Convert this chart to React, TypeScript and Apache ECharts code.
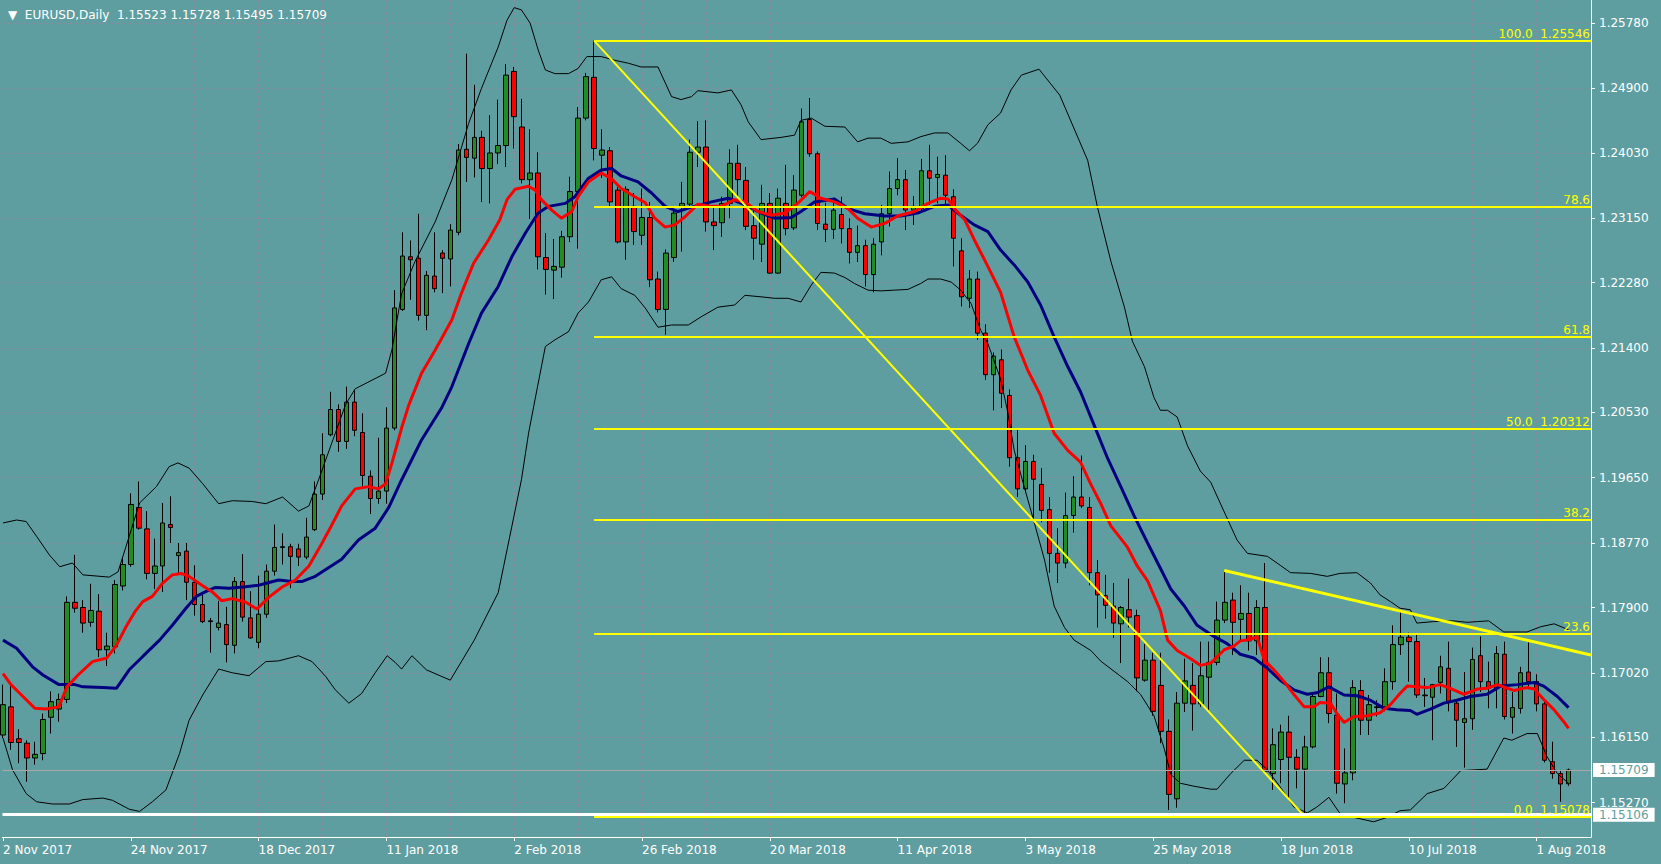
import React, { useEffect, useRef } from 'react';
import * as echarts from 'echarts';

const symbolName = 'EURUSD';
const periodName = 'Daily';

// x axis: bar index -> date label (every 16 trading days)
const dateLabelIndex = [0, 16, 32, 48, 64, 80, 96, 112, 128, 144, 160, 176, 192];
const dateLabels = ['2 Nov 2017', '24 Nov 2017', '18 Dec 2017', '11 Jan 2018', '2 Feb 2018', '26 Feb 2018', '20 Mar 2018', '11 Apr 2018', '3 May 2018', '25 May 2018', '18 Jun 2018', '10 Jul 2018', '1 Aug 2018'];
const gridLineIndex = [0, 8, 16, 24, 32, 40, 48, 56, 64, 72, 80, 88, 96, 104, 112, 120, 128, 136, 144, 152, 160, 168, 176, 184, 192];

// y axis price labels
const priceTicks = [1.2578, 1.249, 1.2403, 1.2315, 1.2228, 1.214, 1.2053, 1.1965, 1.1877, 1.179, 1.1702, 1.1615, 1.1527];

const opens = [
1.1618,1.1656,1.1613,1.1607,1.1587,1.1593,1.1642,1.1653,1.1666,1.1797,
1.1790,1.1770,1.1785,1.1733,1.1737,1.1819,1.1848,1.1925,1.1896,1.1836,
1.1846,1.1902,1.1860,1.1866,1.1824,1.1794,1.1772,1.1763,1.1767,1.1739,
1.1825,1.1776,1.1743,1.1781,1.1839,1.1871,1.1872,1.1869,1.1858,1.1895,
1.1943,1.2023,1.2057,1.2014,1.2067,1.2026,1.1967,1.1937,1.1947,1.2032,
1.2192,1.2263,1.2261,1.2184,1.2237,1.2268,1.2260,1.2296,1.2408,1.2396,
1.2424,1.2382,1.2403,1.2413,1.2513,1.2438,1.2367,1.2376,1.2262,1.2245,
1.2249,1.2290,1.2351,1.2450,1.2505,1.2400,1.2406,1.2353,1.2283,1.2331,
1.2292,1.2316,1.2233,1.2192,1.2262,1.2331,1.2334,1.2404,1.2411,1.2310,
1.2309,1.2335,1.2389,1.2366,1.2305,1.2280,1.2335,1.2241,1.2335,1.2302,
1.2346,1.2448,1.2402,1.2307,1.2300,1.2320,1.2301,1.2269,1.2278,1.2239,
1.2283,1.2321,1.2355,1.2367,1.2326,1.2328,1.2379,1.2370,1.2373,1.2344,
1.2271,1.2207,1.2233,1.2160,1.2104,1.2124,1.2076,1.1992,1.1950,1.1987,
1.1956,1.1922,1.1863,1.1850,1.1914,1.1939,1.1925,1.1837,1.1806,1.1792,
1.1768,1.1787,1.1779,1.1692,1.1719,1.1685,1.1623,1.1532,1.1661,1.1685,
1.1660,1.1696,1.1716,1.1773,1.1800,1.1774,1.1782,1.1745,1.1790,1.1566,
1.1585,1.1622,1.1588,1.1572,1.1602,1.1670,1.1702,1.1645,1.1552,1.1567,
1.1678,1.1638,1.1655,1.1656,1.1690,1.1740,1.1750,1.1744,1.1672,1.1669,
1.1689,1.1708,1.1661,1.1635,1.1640,1.1725,1.1690,1.1681,1.1727,1.1642,
1.1654,1.1703,1.1690,1.1660,1.1582,1.1566,1.15523];

const highs = [
1.1686,1.1684,1.1626,1.1611,1.1609,1.1647,1.1677,1.1674,1.1805,1.1861,
1.1800,1.1822,1.1808,1.1756,1.1827,1.1856,1.1944,1.1960,1.1920,1.1883,
1.1931,1.1940,1.1877,1.1877,1.1847,1.1807,1.1776,1.1799,1.1791,1.1831,
1.1862,1.1812,1.1833,1.1848,1.1902,1.1890,1.1876,1.1876,1.1911,1.1960,
1.2025,1.2081,1.2064,1.2088,1.2083,1.2052,1.1975,1.2019,1.2060,1.2218,
1.2296,1.2285,1.2321,1.2244,1.2296,1.2272,1.2307,1.2415,1.2537,1.2495,
1.2433,1.2454,1.2475,1.2523,1.2519,1.2476,1.2435,1.2404,1.2295,1.2287,
1.2298,1.2371,1.2465,1.2511,1.25546,1.2435,1.2411,1.2357,1.2358,1.2349,
1.2355,1.2337,1.2243,1.2273,1.2327,1.2364,1.2421,1.2446,1.2447,1.2333,
1.2344,1.2408,1.2414,1.2384,1.2328,1.2360,1.2349,1.2355,1.2387,1.2373,
1.2463,1.2477,1.2405,1.2336,1.2337,1.2344,1.2315,1.2305,1.2286,1.2288,
1.2333,1.2378,1.2396,1.2380,1.2345,1.2395,1.2414,1.2398,1.2400,1.2354,
1.2288,1.2245,1.2243,1.2172,1.2134,1.2138,1.2084,1.2030,1.2009,1.1996,
1.1978,1.1939,1.1897,1.1945,1.1967,1.1995,1.1939,1.1854,1.1834,1.1823,
1.1792,1.1829,1.1787,1.1741,1.1729,1.1729,1.1639,1.1676,1.1721,1.1715,
1.1744,1.1744,1.1798,1.1838,1.1810,1.1820,1.1810,1.1800,1.1850,1.1627,
1.1632,1.1644,1.1599,1.1617,1.1673,1.1723,1.1723,1.1674,1.1600,1.1692,
1.1692,1.1672,1.1665,1.1708,1.1766,1.1786,1.1756,1.1753,1.1695,1.1687,
1.1725,1.1744,1.1665,1.1703,1.1736,1.1751,1.1717,1.1738,1.1744,1.1676,
1.1710,1.1743,1.1700,1.1663,1.1609,1.1571,1.15728];

const lows = [
1.1614,1.1598,1.1580,1.1555,1.1578,1.1584,1.1620,1.1636,1.1661,1.1783,
1.1756,1.1764,1.1723,1.1711,1.1728,1.1813,1.1845,1.1895,1.1828,1.1815,
1.1811,1.1877,1.1835,1.1800,1.1779,1.1769,1.1729,1.1759,1.1716,1.1728,
1.1771,1.1748,1.1735,1.1776,1.1833,1.1848,1.1816,1.1846,1.1855,1.1893,
1.1935,1.2021,1.2000,1.2004,1.2021,1.1953,1.1916,1.1930,1.1930,1.2029,
1.2190,1.2205,1.2177,1.2164,1.2215,1.2214,1.2223,1.2292,1.2364,1.2370,
1.2337,1.2335,1.2388,1.2384,1.2409,1.2362,1.2314,1.2246,1.2212,1.2206,
1.2235,1.2283,1.2274,1.2447,1.2393,1.2369,1.2331,1.2281,1.2259,1.2279,
1.2279,1.2222,1.2188,1.2158,1.2256,1.2270,1.2328,1.2384,1.2297,1.2272,
1.2290,1.2315,1.2342,1.2299,1.2259,1.2256,1.2240,1.2240,1.2292,1.2299,
1.2343,1.2398,1.2299,1.2283,1.2287,1.2281,1.2254,1.2256,1.2223,1.2215,
1.2265,1.2304,1.2346,1.2299,1.2306,1.2324,1.2333,1.2335,1.2333,1.2250,
1.2196,1.2194,1.2151,1.2097,1.2056,1.2059,1.1980,1.1939,1.1945,1.1905,
1.1905,1.1837,1.1823,1.1843,1.1891,1.1924,1.1820,1.1763,1.1775,1.1749,
1.1715,1.1763,1.1677,1.1690,1.1644,1.1607,1.1517,1.1520,1.1649,1.1624,
1.1656,1.1652,1.1712,1.1769,1.1726,1.1746,1.1732,1.1726,1.1566,1.1544,
1.1553,1.1533,1.1546,1.15078,1.1600,1.1669,1.1634,1.1539,1.1526,1.1557,
1.1618,1.1618,1.1643,1.1650,1.1679,1.1726,1.1690,1.1668,1.1656,1.1611,
1.1674,1.1650,1.1602,1.1574,1.1625,1.1676,1.1654,1.1654,1.1639,1.1620,
1.1647,1.1680,1.1650,1.1581,1.1559,1.1528,1.15495];

const closes = [
1.1659,1.1608,1.1608,1.1587,1.1592,1.1639,1.1663,1.1666,1.1797,1.1789,
1.1769,1.1786,1.1733,1.1738,1.1821,1.1848,1.1929,1.1897,1.1836,1.1846,
1.1904,1.1898,1.1864,1.1824,1.1794,1.1771,1.1771,1.1769,1.1740,1.1825,
1.1777,1.1749,1.1781,1.1839,1.1871,1.1872,1.1859,1.1858,1.1885,1.1943,
1.1996,1.2057,1.2014,1.2067,1.2029,1.1968,1.1937,1.1947,1.2032,1.2194,
1.2264,1.2259,1.2184,1.2238,1.2220,1.2261,1.2299,1.2407,1.2397,1.2424,
1.2382,1.2403,1.2413,1.2508,1.2452,1.2367,1.2376,1.2263,1.2246,1.2250,
1.2290,1.2351,1.2450,1.2506,1.2409,1.2407,1.2337,1.2283,1.2354,1.2297,
1.2316,1.2232,1.2192,1.2268,1.2322,1.2335,1.2404,1.2411,1.2310,1.2305,
1.2335,1.2389,1.2367,1.2304,1.2288,1.2335,1.2241,1.2342,1.2301,1.2353,
1.2445,1.2402,1.2308,1.2300,1.2326,1.2301,1.2269,1.2278,1.2239,1.2280,
1.2321,1.2355,1.2367,1.2326,1.2331,1.2379,1.2369,1.2374,1.2346,1.2288,
1.2209,1.2233,1.2160,1.2104,1.2129,1.2079,1.1992,1.1950,1.1987,1.1963,
1.1921,1.1863,1.1850,1.1914,1.1939,1.1927,1.1837,1.1807,1.1793,1.1769,
1.1790,1.1777,1.1695,1.1719,1.1650,1.1623,1.1538,1.1661,1.1691,1.1660,
1.1698,1.1716,1.1773,1.1797,1.1770,1.1782,1.1745,1.1790,1.1569,1.1605,
1.1622,1.1588,1.1572,1.1602,1.1670,1.1702,1.1647,1.1553,1.1567,1.1682,
1.1638,1.1659,1.1656,1.1690,1.1740,1.1750,1.1744,1.1672,1.1671,1.1686,
1.1710,1.1663,1.1638,1.1640,1.1720,1.1690,1.1681,1.1728,1.1643,1.1655,
1.1702,1.1690,1.1660,1.1584,1.1566,1.1552,1.15709];

// indicator lines as [bar index, price]
const redLine = [[0,1.1701],[1,1.1686],[2.5,1.1670],[4,1.1654],[5.4,1.1653],[7,1.1656],[8,1.1683],[9.4,1.1699],[11.2,1.1717],[13,1.1722],[14.2,1.1739],[15.4,1.1764],[16.5,1.1784],[17.5,1.1798],[18.7,1.1805],[20,1.1823],[21.2,1.1834],[22.3,1.1836],[23.3,1.1832],[24.9,1.1820],[26.2,1.1811],[27.4,1.1799],[28.7,1.1802],[30.4,1.1797],[31.8,1.1788],[33.3,1.1804],[35,1.1818],[36.6,1.1827],[38.3,1.1846],[39.9,1.1876],[41.2,1.1902],[42.4,1.1927],[44.1,1.1950],[45.8,1.1953],[47,1.1950],[47.9,1.1957],[48.7,1.1985],[49.9,1.2032],[50.8,1.2063],[52.4,1.2106],[54.1,1.2137],[56.2,1.2178],[57.4,1.2214],[58.9,1.2254],[60.8,1.2286],[62.2,1.2313],[63.1,1.2340],[64.1,1.2354],[65.8,1.2358],[66.6,1.2353],[67.4,1.2340],[68.7,1.2326],[69.9,1.2315],[71.2,1.2324],[72,1.2344],[73.3,1.2364],[74.9,1.2376],[76.2,1.2368],[77.4,1.2355],[79.1,1.2344],[80.4,1.2336],[81.6,1.2315],[82.9,1.2303],[84.1,1.2306],[85.4,1.2317],[87,1.2334],[88.7,1.2331],[89.9,1.2331],[91.6,1.2340],[92.9,1.2337],[94.5,1.2324],[96.2,1.2319],[97.9,1.2322],[99.5,1.2335],[101,1.2351],[102.4,1.2342],[104.1,1.2337],[105.8,1.2328],[107,1.2315],[108.7,1.2303],[110.4,1.2308],[112,1.2318],[114.1,1.2324],[115.8,1.2335],[117.4,1.2342],[118.3,1.2341],[119.1,1.2328],[120.4,1.2313],[121.6,1.2286],[123.3,1.2250],[124.9,1.2215],[126.6,1.2155],[128.3,1.2110],[129.9,1.2076],[131.6,1.2025],[133.3,1.2002],[134.9,1.1986],[136.2,1.1956],[137.4,1.1931],[138.7,1.1900],[140.8,1.1871],[142,1.1846],[143.3,1.1826],[144.9,1.1786],[145.8,1.1746],[147,1.1732],[148.7,1.1721],[149.9,1.1712],[151.2,1.1715],[152.9,1.1733],[154.1,1.1738],[154.9,1.1745],[156.2,1.1747],[157,1.1751],[157.9,1.1719],[159.1,1.1706],[160.4,1.1690],[161.6,1.1673],[162.9,1.1656],[164.1,1.1656],[164.9,1.1662],[166.2,1.1661],[167,1.1647],[167.9,1.1635],[169.1,1.1643],[170.8,1.1644],[172.4,1.1648],[173.7,1.1659],[174.9,1.1674],[175.8,1.1684],[177,1.1683],[178.3,1.1682],[179.9,1.1686],[181.2,1.1681],[182.9,1.1673],[184.6,1.1680],[185.8,1.1681],[187.1,1.1686],[189.2,1.1678],[190.8,1.1682],[191.7,1.1680],[192.9,1.1666],[194.2,1.1652],[195.4,1.1636],[196,1.1627]];

const navyLine = [[0,1.1746],[1.7,1.1735],[3.7,1.1710],[5,1.1699],[7,1.1686],[9,1.1686],[10,1.1683],[12.5,1.1682],[14.2,1.1681],[15.8,1.1706],[17.5,1.1724],[19.6,1.1746],[21.2,1.1766],[22.9,1.1789],[24.2,1.1805],[25.5,1.1812],[26.6,1.1817],[28.3,1.1816],[30.4,1.1818],[32,1.1820],[34.5,1.1827],[36.2,1.1825],[37.4,1.1825],[39.1,1.1832],[40.8,1.1844],[42.4,1.1855],[44.5,1.1881],[46.6,1.1897],[48.3,1.1925],[49.9,1.1962],[51.2,1.1990],[52.4,1.2016],[54.9,1.2059],[56.2,1.2088],[58.3,1.2146],[59.9,1.2187],[62,1.2223],[63.7,1.2263],[65.4,1.2295],[67,1.2322],[68.3,1.2331],[70.4,1.2335],[71.6,1.2344],[73.3,1.2369],[74.9,1.2380],[76.2,1.2382],[77.4,1.2372],[79.5,1.2364],[81.2,1.2349],[82.9,1.2331],[84.5,1.2324],[86.2,1.2330],[88.7,1.2337],[90.8,1.2342],[92.9,1.2333],[94.9,1.2322],[96.6,1.2315],[98.7,1.2316],[99.9,1.2324],[101.6,1.2337],[104.1,1.2341],[105.8,1.2328],[107.9,1.2321],[110.4,1.2318],[112.4,1.2318],[114.5,1.2322],[116.6,1.2331],[118.3,1.2333],[119.5,1.2322],[121.6,1.2306],[123.3,1.2297],[124.9,1.2272],[126.6,1.2252],[128.3,1.2229],[129.9,1.2198],[131.6,1.2155],[133.3,1.2115],[134.9,1.2081],[136.6,1.2036],[138.3,1.1991],[139.9,1.1954],[141.6,1.1914],[143.3,1.1877],[144.9,1.1843],[146.2,1.1815],[147.9,1.1792],[149.5,1.1766],[151.6,1.1751],[153.3,1.1741],[154.9,1.1727],[156.6,1.1722],[158.3,1.1708],[159.9,1.1692],[161.6,1.1679],[163.3,1.1673],[164.5,1.1675],[166,1.1683],[167.9,1.1672],[169.5,1.1671],[171.2,1.1665],[172.9,1.1654],[174.5,1.1652],[176.2,1.1651],[177,1.1646],[178.7,1.1653],[180.4,1.1661],[182,1.1665],[183.7,1.1670],[185.8,1.1673],[187.5,1.1684],[189.6,1.1686],[191.7,1.1689],[192.9,1.1684],[194.6,1.1670],[196,1.1655]];

const upperBand = [[0,1.1904],[1.7,1.1908],[2.9,1.1906],[4.2,1.1886],[5.8,1.1861],[7.1,1.1845],[8.7,1.1850],[10,1.1834],[13.3,1.1831],[14.4,1.1838],[15.8,1.1886],[17.1,1.1931],[19.2,1.1953],[20.8,1.1980],[21.9,1.1985],[23.3,1.1978],[25,1.1957],[27,1.1930],[28.7,1.1934],[31.2,1.1933],[32.9,1.1930],[35,1.1939],[37,1.1920],[38.3,1.1927],[39.5,1.1962],[41.2,1.2013],[42.9,1.2064],[44.1,1.2085],[47.9,1.2106],[48.7,1.2138],[49.9,1.2213],[51.6,1.2257],[54.1,1.2310],[56.2,1.2367],[58.3,1.2443],[59.9,1.2490],[62,1.2546],[63.1,1.2582],[64,1.2599],[64.9,1.2596],[66,1.2578],[67,1.2542],[67.9,1.2515],[69.1,1.2510],[70.8,1.2510],[72,1.2517],[73.1,1.2533],[74.9,1.2533],[76.6,1.2528],[78.3,1.2524],[79.9,1.2519],[82,1.2519],[83.7,1.2479],[84.9,1.2475],[86.2,1.2479],[87,1.2487],[89.5,1.2484],[91.2,1.2488],[92.4,1.2468],[93.3,1.2445],[94.9,1.2421],[97.4,1.2424],[99.1,1.2427],[99.9,1.2447],[101.2,1.2450],[102.9,1.2439],[105.4,1.2438],[107,1.2418],[108.3,1.2423],[109.9,1.2423],[111.2,1.2416],[113.3,1.2418],[114.9,1.2425],[116.6,1.2430],[118.3,1.2430],[119.9,1.2416],[121,1.2406],[122,1.2416],[123.3,1.2441],[124.9,1.2457],[126.2,1.2488],[127.5,1.2508],[129.7,1.2516],[132.3,1.2481],[135.8,1.2393],[137,1.2331],[138.7,1.2257],[140.4,1.2195],[141.4,1.2149],[142.9,1.2115],[144.1,1.2073],[144.9,1.2056],[145.8,1.2056],[147,1.2047],[148.3,1.2008],[149.9,1.1974],[151.2,1.1959],[154.5,1.1881],[155.8,1.1863],[158.3,1.1859],[159.9,1.1847],[161.2,1.1837],[163.7,1.1836],[165.8,1.1832],[167.4,1.1836],[169.5,1.1837],[171.2,1.1823],[172.4,1.1807],[173.7,1.1798],[174.9,1.1789],[176.2,1.1787],[177,1.1769],[179.1,1.1771],[181.6,1.1772],[183.3,1.1770],[184.6,1.1771],[186,1.1772],[187.9,1.1757],[190.8,1.1757],[192.5,1.1764],[194.2,1.1768],[196,1.1760]];

const lowerBand = [[0,1.1614],[1.2,1.1571],[2.9,1.1539],[4.2,1.1528],[6.2,1.1525],[8.3,1.1525],[10,1.1531],[12.5,1.1533],[13.7,1.1530],[15.8,1.1518],[17.1,1.1515],[18.7,1.1528],[20.4,1.1544],[22.1,1.1593],[23.3,1.1638],[25,1.1672],[27,1.1707],[28.7,1.1702],[30.8,1.1698],[32.9,1.1717],[34.5,1.1718],[37,1.1725],[38.7,1.1717],[40.4,1.1697],[41.6,1.1679],[43.3,1.1661],[44.9,1.1674],[46.6,1.1702],[48.1,1.1725],[49.1,1.1716],[49.9,1.1707],[51.2,1.1725],[53,1.1706],[56,1.1692],[59,1.1746],[62,1.1810],[64.9,1.1962],[65.8,1.2025],[66.6,1.2070],[67.9,1.2142],[69.1,1.2151],[70.8,1.2162],[72,1.2187],[73.3,1.2202],[74.9,1.2232],[76.2,1.2236],[77.4,1.2220],[79.1,1.2211],[80.4,1.2194],[82,1.2168],[83.7,1.2171],[85.8,1.2171],[87.4,1.2182],[89.5,1.2195],[91.6,1.2198],[92.9,1.2211],[94.9,1.2209],[96.6,1.2207],[98.3,1.2207],[99.9,1.2202],[101.2,1.2225],[102.4,1.2242],[104.1,1.2241],[105.4,1.2235],[106.6,1.2227],[108.3,1.2218],[109.9,1.2217],[111.6,1.2218],[113.3,1.2219],[114.9,1.2227],[115.8,1.2233],[117.4,1.2233],[118.7,1.2229],[119.9,1.2218],[121.2,1.2200],[122.4,1.2164],[123.3,1.2146],[124.9,1.2098],[125.8,1.2053],[126.6,1.2002],[127.9,1.1951],[129.1,1.1905],[130.4,1.1854],[131.6,1.1792],[132.9,1.1763],[134.1,1.1746],[136.2,1.1732],[137.4,1.1718],[139.1,1.1704],[140.8,1.1690],[142.4,1.1673],[144.1,1.1644],[145.4,1.1599],[146.2,1.1565],[147.4,1.1553],[149.1,1.1549],[151.2,1.1545],[152,1.1545],[153.7,1.1566],[155.4,1.1584],[157,1.1584],[158.3,1.1571],[159.9,1.1548],[161.6,1.1521],[163.3,1.1513],[164.5,1.1521],[166,1.1534],[167.4,1.1512],[169.1,1.1507],[171.6,1.1501],[173.3,1.1507],[174.9,1.1516],[176.2,1.1517],[178.3,1.1539],[180.4,1.1546],[182.5,1.1570],[185.8,1.1572],[187.9,1.1614],[188.9,1.1611],[190.8,1.1620],[192.1,1.1620],[193.3,1.1589],[194.6,1.1566],[196,1.1553]];

// chart objects
const fibHigh = 1.25546;
const fibLow = 1.15078;
const fibStartBar = 74;
const fibEndBar = 163;
const fibLevels = [0, 23.6, 38.2, 50, 61.8, 78.6, 100];
const fibPricedLevels = [0, 50, 100];
const trendStart = [152.9, 1.1840];
const trendEnd = [198.8, 1.1726];
const hLinePrice = 1.15106;
const bidPrice = 1.15709;

const X_MIN = -0.0625;
const X_MAX = 198.8125;
const Y_MIN = 1.14805;
const Y_MAX = 1.26093;

const BG = '#5f9ea0';
const GRID = '#8a8a9e';
const FONT = 'DejaVu Sans';

function buildOption() {
  const candles = opens.map((o, i) => [i, o, closes[i], lows[i], highs[i]]);
  const last = opens.length - 1;
  const fmt = (v: number) => v.toFixed(5);
  const titleText = `\u25BC  ${symbolName},${periodName}  ${fmt(opens[last])} ${fmt(highs[last])} ${fmt(lows[last])} ${fmt(closes[last])}`;

  const fibLines = fibLevels.map((lv) => {
    const price = fibLow + (fibHigh - fibLow) * lv / 100;
    const txt = fibPricedLevels.includes(lv) ? `${lv.toFixed(1)}  ${fmt(price)}` : lv.toFixed(1);
    return [
      {
        coord: [fibStartBar, price],
        lineStyle: { color: '#ffff00', width: 2, type: 'solid' },
        label: {
          show: true, position: 'insideEndTop', formatter: txt, color: '#ffff00',
          fontSize: 12, fontFamily: FONT, distance: [1, 1],
        },
      },
      { coord: [X_MAX, price] },
    ];
  });

  const objLines: any[] = [
    [
      { coord: [X_MIN, bidPrice], lineStyle: { color: '#a9a9a9', width: 1, type: 'solid' },
        label: { show: true, position: 'end', formatter: fmt(bidPrice), backgroundColor: '#ffffff', color: BG,
          padding: [1, 6, 0, 6], fontSize: 12, fontFamily: FONT, lineHeight: 13, distance: 2 } },
      { coord: [X_MAX, bidPrice] },
    ],
    ...fibLines,
    [
      { coord: [fibStartBar, fibHigh], lineStyle: { color: '#ffff00', width: 2, type: 'solid' }, label: { show: false } },
      { coord: [fibEndBar, fibLow] },
    ],
    [
      { coord: trendStart, lineStyle: { color: '#ffff00', width: 3, type: 'solid' }, label: { show: false } },
      { coord: trendEnd },
    ],
    [
      { coord: [X_MIN, hLinePrice], lineStyle: { color: '#ffffff', width: 3, type: 'solid' },
        label: { show: true, position: 'end', formatter: fmt(hLinePrice), backgroundColor: '#ffffff', color: BG,
          padding: [1, 6, 0, 6], fontSize: 12, fontFamily: FONT, lineHeight: 13, distance: 2 } },
      { coord: [X_MAX, hLinePrice] },
    ],
  ];

  const lineSeries = (data: number[][], color: string, width: number, z: number) => ({
    type: 'line', data, showSymbol: false, symbol: 'none', silent: true, z,
    lineStyle: { color, width }, itemStyle: { color },
  });

  return {
    animation: false,
    backgroundColor: BG,
    title: {
      text: titleText, left: 3, top: 4,
      textStyle: { color: '#ffffff', fontSize: 12, fontFamily: FONT, fontWeight: 'normal' },
    },
    grid: { left: 0, top: 0, width: 1591, height: 837, containLabel: false, show: false },
    xAxis: [
      {
        type: 'value', min: X_MIN, max: X_MAX, position: 'bottom',
        axisLine: { show: true, onZero: false, lineStyle: { color: '#ffffff', width: 1 } },
        axisTick: { show: true, customValues: dateLabelIndex, length: 4, lineStyle: { color: '#ffffff' } },
        axisLabel: {
          show: true, customValues: dateLabelIndex, align: 'left', color: '#ffffff', fontSize: 12,
          fontFamily: FONT, margin: 7,
          formatter: (v: number) => { const k = dateLabelIndex.indexOf(Math.round(v)); return k >= 0 ? dateLabels[k] : ''; },
        },
        splitLine: { show: false },
      },
      {
        type: 'value', min: X_MIN, max: X_MAX, position: 'top',
        axisLine: { show: false, onZero: false },
        axisTick: { show: false, customValues: gridLineIndex },
        axisLabel: { show: false },
        splitLine: { show: true, lineStyle: { color: GRID, width: 1, type: [3, 3] } },
      },
    ],
    yAxis: {
      type: 'value', position: 'right', min: Y_MIN, max: Y_MAX,
      axisLine: { show: true, onZero: false, lineStyle: { color: '#ffffff', width: 1 } },
      axisTick: { show: true, customValues: priceTicks, length: 4, lineStyle: { color: '#ffffff' } },
      axisLabel: {
        show: true, customValues: priceTicks, color: '#ffffff', fontSize: 12, fontFamily: FONT, margin: 8,
        formatter: (v: number) => v.toFixed(5),
      },
      splitLine: { show: true, lineStyle: { color: GRID, width: 1, type: [3, 3] } },
    },
    series: [
      {
        type: 'candlestick', data: candles, barWidth: 5, z: 2, silent: true,
        itemStyle: { color: '#228b22', color0: '#ff0000', borderColor: '#000000', borderColor0: '#000000', borderColorDoji: '#000000', borderWidth: 1 },
      },
      lineSeries(upperBand, '#000000', 1, 3),
      lineSeries(lowerBand, '#000000', 1, 3),
      lineSeries(navyLine, '#000080', 3, 4),
      lineSeries(redLine, '#ff0000', 3, 4),
      {
        type: 'line', data: [], z: 6, silent: true,
        markLine: { silent: true, symbol: ['none', 'none'], animation: false, data: objLines },
      },
    ],
  };
}

export default function App() {
  const ref = useRef<HTMLDivElement>(null);
  useEffect(() => {
    const chart = echarts.init(ref.current as HTMLDivElement, null, { renderer: 'svg' });
    chart.setOption(buildOption() as any);
    return () => chart.dispose();
  }, []);
  return <div ref={ref} style={{ position: 'fixed', left: 0, top: 0, width: 1661, height: 864 }} />;
}
